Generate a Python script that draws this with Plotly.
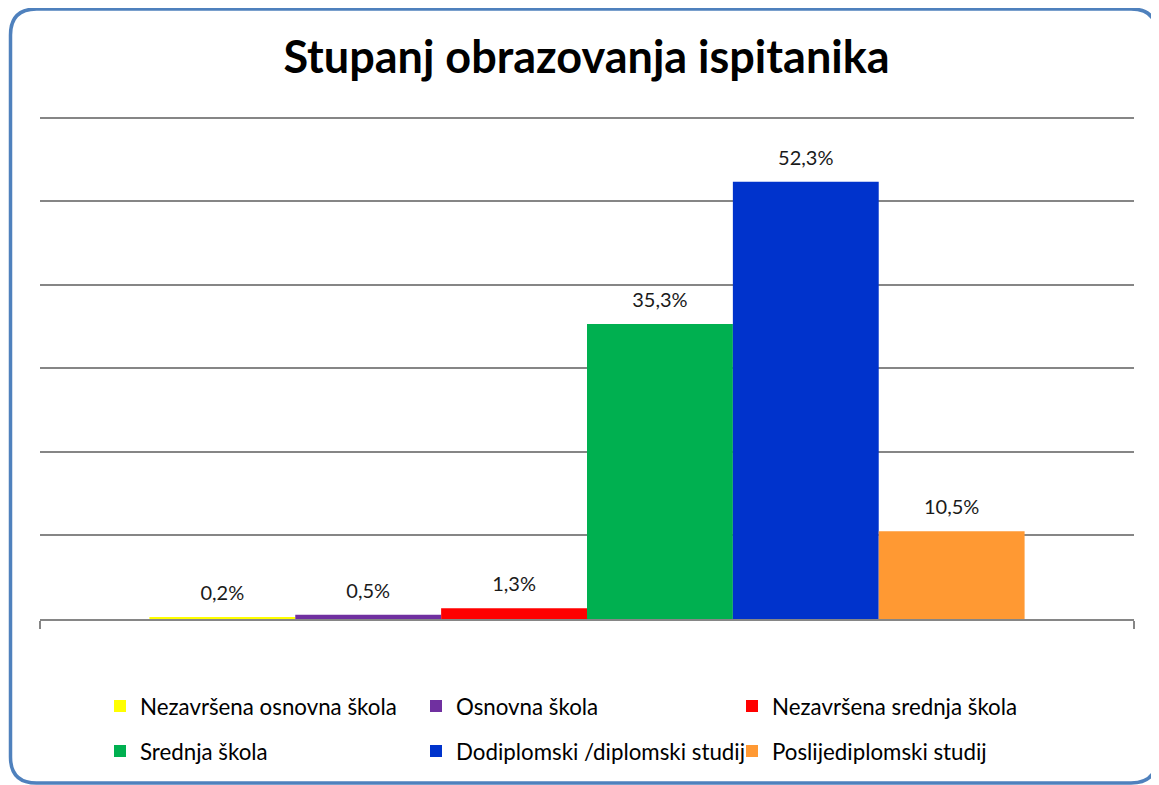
import plotly.graph_objects as go

categories = ["Nezavršena osnovna škola", "Osnovna škola", "Nezavršena srednja škola",
              "Srednja škola", "Dodiplomski /diplomski studij", "Poslijediplomski studij"]
values = [0.2, 0.5, 1.3, 35.3, 52.3, 10.5]
colors = ["#FFFF00", "#7030A0", "#FF0000", "#00B050", "#0033CC", "#FF9933"]
title_text = "Stupanj obrazovanja ispitanika"

# page body has an 8px margin, so the figure is drawn 8px right/down
W, H = 1151, 777
L, R, T, B = 32, 25, 107, 166
PW, PH = W - L - R, H - T - B

def px(x):
    return (x - L) / PW

def py(y):
    return (H - B - y) / PH

fig = go.Figure()
for i, (name, v, c) in enumerate(zip(categories, values, colors)):
    fig.add_trace(go.Bar(
        x=[""], y=[v], name=name,
        marker=dict(color=c, line=dict(width=0)),
        legend="legend" if i < 3 else "legend2",
    ))
# data labels, grouped the same way as the bars
for i, (name, v) in enumerate(zip(categories, values)):
    fig.add_trace(go.Scatter(
        x=[""], y=[v], mode="markers+text", showlegend=False, hoverinfo="skip",
        marker=dict(size=18, color="rgba(0,0,0,0)"),
        text=[f"{v:.1f}%".replace(".", ",")], textposition="top center",
        textfont=dict(family="Lato", size=20, color="#1a1a1a"),
        cliponaxis=False,
    ))

# rounded border
x0, x1, y0, y1, r = 2.5, 1149, 1, 775, 26
path = (f"M {px(x0+r)},{py(y0)} L {px(x1-r)},{py(y0)} Q {px(x1)},{py(y0)} {px(x1)},{py(y0+r)} "
        f"L {px(x1)},{py(y1-r)} Q {px(x1)},{py(y1)} {px(x1-r)},{py(y1)} "
        f"L {px(x0+r)},{py(y1)} Q {px(x0)},{py(y1)} {px(x0)},{py(y1-r)} "
        f"L {px(x0)},{py(y0+r)} Q {px(x0)},{py(y0)} {px(x0+r)},{py(y0)} Z")

legend_common = dict(orientation="h", font=dict(family="Lato", size=22.3, color="#000000"),
                     entrywidth=271, entrywidthmode="pixels", bgcolor="rgba(0,0,0,0)",
                     xref="container", yref="container",
                     xanchor="left", yanchor="middle", traceorder="normal")

fig.update_layout(
    width=W, height=H,
    margin=dict(l=L, r=R, t=T, b=B),
    paper_bgcolor="white", plot_bgcolor="white",
    separators=",.",
    barmode="group", bargap=0.2, bargroupgap=0,
    scattermode="group", scattergap=0.2,
    title=dict(text=f"<b>{title_text}</b>", font=dict(family="Lato", size=45, color="#000000"),
               x=px(586.5 - 8), xref="paper", xanchor="center", y=1 - 49 / H, yanchor="middle"),
    xaxis=dict(type="category", tickson="boundaries", ticks="outside", ticklen=8,
               tickcolor="#868686", tickwidth=2, showticklabels=False,
               showline=True, linecolor="#868686", linewidth=2, showgrid=False),
    yaxis=dict(range=[0, 60.3], tickvals=[10, 20, 30, 40, 50, 60], showgrid=True,
               gridcolor="#868686", gridwidth=1.5,
               showticklabels=False, zeroline=False, showline=False, ticks=""),
    legend=dict(**legend_common, x=92 / W, y=1 - 698 / H),
    legend2=dict(**legend_common, x=92 / W, y=1 - 743 / H),
    shapes=[dict(type="path", path=path, xref="paper", yref="paper",
                 line=dict(color="#4F81BD", width=3.5), layer="above")],
    showlegend=True,
)

fig.write_html("out.html")
